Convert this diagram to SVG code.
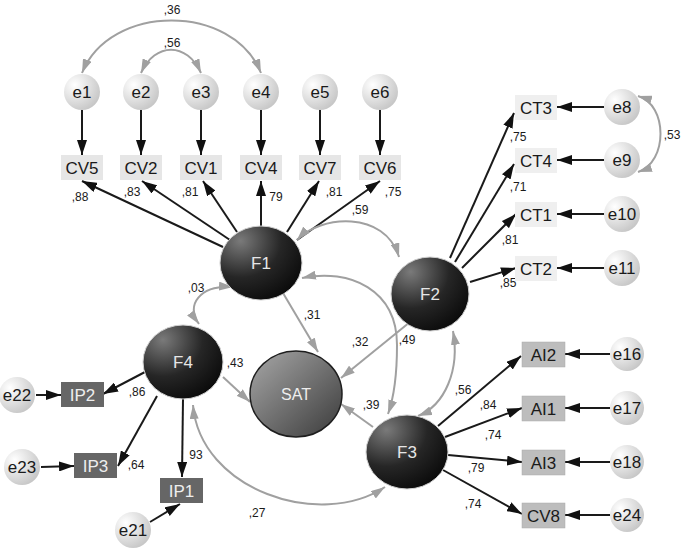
<svg xmlns="http://www.w3.org/2000/svg" width="682" height="550" viewBox="0 0 682 550">
<defs>
<radialGradient id="gE" cx="0.3" cy="0.3" r="0.8">
<stop offset="0" stop-color="#ffffff"/><stop offset="1" stop-color="#c4c4c4"/>
</radialGradient>
<radialGradient id="gF" cx="0.25" cy="0.2" r="0.9">
<stop offset="0" stop-color="#7a7a7a"/><stop offset="0.55" stop-color="#262626"/><stop offset="1" stop-color="#0a0a0a"/>
</radialGradient>
<linearGradient id="gS" x1="0" y1="0" x2="1" y2="1">
<stop offset="0" stop-color="#a8a8a8"/><stop offset="1" stop-color="#3a3a3a"/>
</linearGradient>
<marker id="ab" viewBox="0 0 15 10" refX="15" refY="5" markerWidth="15" markerHeight="10" orient="auto-start-reverse" markerUnits="userSpaceOnUse"><path d="M0,0 L15,5 L0,10 z" fill="#111"/></marker>
<marker id="ag" viewBox="0 0 14 9" refX="14" refY="4.5" markerWidth="14" markerHeight="9" orient="auto-start-reverse" markerUnits="userSpaceOnUse"><path d="M0,0 L14,4.5 L0,9 z" fill="#a0a0a0"/></marker>
</defs>
<style>
.e{fill:url(#gE);stroke:none}
.f{fill:url(#gF);stroke:#cfcfcf;stroke-width:1}
.cv{fill:#e6e6e6}
.ct{fill:#efefef}
.ai{fill:#bdbdbd;stroke:#aaa;stroke-width:0.5}
.ip{fill:#666666}
.t{font-family:"Liberation Sans",Arial,sans-serif;font-size:17px;fill:#1a1a1a;text-anchor:middle}
.tf{font-family:"Liberation Sans",Arial,sans-serif;font-size:17px;fill:#e6e6e6;text-anchor:middle}
.tw{font-family:"Liberation Sans",Arial,sans-serif;font-size:17px;fill:#eeeeee;text-anchor:middle}
.c{font-family:"Liberation Sans",Arial,sans-serif;font-size:12px;fill:#1a1a1a;text-anchor:middle}
.bl{stroke:#1a1a1a;stroke-width:2;fill:none;marker-end:url(#ab)}
.gl{stroke:#a0a0a0;stroke-width:2;fill:none;marker-end:url(#ag)}
.gd{stroke:#a0a0a0;stroke-width:2;fill:none;marker-start:url(#ag);marker-end:url(#ag)}
</style>
<rect width="682" height="550" fill="#ffffff"/>

<g id="connectors">
<line class="bl" x1="82" y1="110" x2="82" y2="155"/>
<line class="bl" x1="141" y1="110" x2="141" y2="155"/>
<line class="bl" x1="201" y1="110" x2="201" y2="155"/>
<line class="bl" x1="261" y1="110" x2="261" y2="155"/>
<line class="bl" x1="320" y1="110" x2="320" y2="155"/>
<line class="bl" x1="380" y1="110" x2="380" y2="155"/>
<path class="gd" d="M82,73 C110,3 233,3 261,73"/>
<path class="gd" d="M141,73 C155,42 187,42 201,73"/>
<line class="bl" x1="223" y1="247" x2="82" y2="181"/>
<line class="bl" x1="230" y1="240" x2="142" y2="181"/>
<line class="bl" x1="237" y1="232" x2="203" y2="181"/>
<line class="bl" x1="261" y1="226" x2="261" y2="181"/>
<line class="bl" x1="287" y1="232" x2="319" y2="181"/>
<line class="bl" x1="297" y1="240" x2="380" y2="181"/>
<line class="bl" x1="450" y1="258" x2="514" y2="113"/>
<line class="bl" x1="455" y1="262" x2="514" y2="164"/>
<line class="bl" x1="462" y1="268" x2="516" y2="214"/>
<line class="bl" x1="470" y1="282" x2="516" y2="268"/>
<line class="bl" x1="604" y1="107" x2="557" y2="107"/>
<line class="bl" x1="604" y1="160" x2="557" y2="160"/>
<line class="bl" x1="604" y1="214" x2="557" y2="214"/>
<line class="bl" x1="604" y1="268" x2="557" y2="268"/>
<path class="gd" d="M638,96 C668,105 668,162 638,172"/>
<line class="bl" x1="438" y1="426" x2="521" y2="356"/>
<line class="bl" x1="445" y1="437" x2="522" y2="408"/>
<line class="bl" x1="448" y1="455" x2="522" y2="462"/>
<line class="bl" x1="443" y1="470" x2="522" y2="514"/>
<line class="bl" x1="610" y1="354" x2="565" y2="354"/>
<line class="bl" x1="610" y1="408" x2="565" y2="408"/>
<line class="bl" x1="610" y1="462" x2="565" y2="462"/>
<line class="bl" x1="610" y1="515" x2="565" y2="515"/>
<line class="bl" x1="145" y1="372" x2="103" y2="394"/>
<line class="bl" x1="157" y1="396" x2="118" y2="466"/>
<line class="bl" x1="183" y1="399" x2="182" y2="477"/>
<line class="bl" x1="36" y1="395" x2="61" y2="395"/>
<line class="bl" x1="41" y1="467" x2="74" y2="466"/>
<line class="bl" x1="150" y1="522" x2="180" y2="504"/>
<line class="gl" x1="223" y1="377" x2="250" y2="402"/>
<line class="gl" x1="283" y1="293" x2="318" y2="352"/>
<line class="gl" x1="410" y1="322" x2="341" y2="378"/>
<line class="gl" x1="373" y1="427" x2="341" y2="404"/>
<path class="gd" d="M199,324 C185,305 200,285 233,287"/>
<path class="gd" d="M297,240 C320,215 385,210 399,257"/>
<path class="gd" d="M302,278 C350,268 397,290 397,345 C397,380 393,400 388,414"/>
<path class="gd" d="M418,416 C445,405 460,370 453,331"/>
<path class="gd" d="M193,405 C200,490 320,530 385,487"/>
</g>

<g id="coefficients">
<text class="c" x="172" y="14">,36</text>
<text class="c" x="172" y="47">,56</text>
<text class="c" x="80" y="201">,88</text>
<text class="c" x="132" y="196">,83</text>
<text class="c" x="190" y="196">,81</text>
<text class="c" x="276" y="201">79</text>
<text class="c" x="334" y="196">,81</text>
<text class="c" x="393" y="196">,75</text>
<text class="c" x="518" y="141">,75</text>
<text class="c" x="518" y="191">,71</text>
<text class="c" x="510" y="244">,81</text>
<text class="c" x="508" y="287">,85</text>
<text class="c" x="672" y="139">,53</text>
<text class="c" x="360" y="214">,59</text>
<text class="c" x="196" y="292">,03</text>
<text class="c" x="312" y="319">,31</text>
<text class="c" x="360" y="346">,32</text>
<text class="c" x="407" y="344">,49</text>
<text class="c" x="235" y="367">,43</text>
<text class="c" x="371" y="409">,39</text>
<text class="c" x="463" y="394">,56</text>
<text class="c" x="488" y="409">,84</text>
<text class="c" x="493" y="439">,74</text>
<text class="c" x="476" y="472">,79</text>
<text class="c" x="473" y="508">,74</text>
<text class="c" x="137" y="396">,86</text>
<text class="c" x="136" y="469">,64</text>
<text class="c" x="196" y="459">93</text>
<text class="c" x="257" y="517">,27</text>
</g>

<g id="e1"><circle class="e" cx="82" cy="92" r="18"/><text class="t" x="82" y="98">e1</text></g>
<g id="e2"><circle class="e" cx="141" cy="92" r="18"/><text class="t" x="141" y="98">e2</text></g>
<g id="e3"><circle class="e" cx="201" cy="92" r="18"/><text class="t" x="201" y="98">e3</text></g>
<g id="e4"><circle class="e" cx="261" cy="92" r="18"/><text class="t" x="261" y="98">e4</text></g>
<g id="e5"><circle class="e" cx="320" cy="92" r="18"/><text class="t" x="320" y="98">e5</text></g>
<g id="e6"><circle class="e" cx="380" cy="92" r="18"/><text class="t" x="380" y="98">e6</text></g>

<g id="CV5"><rect class="cv" x="61" y="155" width="42" height="25"/><text class="t" x="82" y="174">CV5</text></g>
<g id="CV2"><rect class="cv" x="120" y="155" width="42" height="25"/><text class="t" x="141" y="174">CV2</text></g>
<g id="CV1"><rect class="cv" x="180" y="155" width="42" height="25"/><text class="t" x="201" y="174">CV1</text></g>
<g id="CV4"><rect class="cv" x="240" y="155" width="42" height="25"/><text class="t" x="261" y="174">CV4</text></g>
<g id="CV7"><rect class="cv" x="299" y="155" width="42" height="25"/><text class="t" x="320" y="174">CV7</text></g>
<g id="CV6"><rect class="cv" x="359" y="155" width="42" height="25"/><text class="t" x="380" y="174">CV6</text></g>

<g id="CT3"><rect class="ct" x="515" y="95" width="42" height="25"/><text class="t" x="536" y="114">CT3</text></g>
<g id="CT4"><rect class="ct" x="515" y="148" width="42" height="25"/><text class="t" x="536" y="167">CT4</text></g>
<g id="CT1"><rect class="ct" x="515" y="202" width="42" height="25"/><text class="t" x="536" y="221">CT1</text></g>
<g id="CT2"><rect class="ct" x="515" y="256" width="42" height="25"/><text class="t" x="536" y="275">CT2</text></g>

<g id="e8"><circle class="e" cx="622" cy="107" r="18"/><text class="t" x="622" y="113">e8</text></g>
<g id="e9"><circle class="e" cx="622" cy="160" r="18"/><text class="t" x="622" y="166">e9</text></g>
<g id="e10"><circle class="e" cx="622" cy="214" r="18"/><text class="t" x="622" y="220">e10</text></g>
<g id="e11"><circle class="e" cx="622" cy="268" r="18"/><text class="t" x="622" y="274">e11</text></g>

<g id="AI2"><rect class="ai" x="522" y="342" width="43" height="25"/><text class="t" x="543.5" y="361">AI2</text></g>
<g id="AI1"><rect class="ai" x="522" y="396" width="43" height="25"/><text class="t" x="543.5" y="415">AI1</text></g>
<g id="AI3"><rect class="ai" x="522" y="450" width="43" height="25"/><text class="t" x="543.5" y="469">AI3</text></g>
<g id="CV8"><rect class="ai" x="522" y="503" width="43" height="25"/><text class="t" x="543.5" y="522">CV8</text></g>

<g id="e16"><circle class="e" cx="627" cy="354" r="17"/><text class="t" x="627" y="360">e16</text></g>
<g id="e17"><circle class="e" cx="627" cy="408" r="17"/><text class="t" x="627" y="414">e17</text></g>
<g id="e18"><circle class="e" cx="627" cy="462" r="17"/><text class="t" x="627" y="468">e18</text></g>
<g id="e24"><circle class="e" cx="627" cy="515" r="17"/><text class="t" x="627" y="521">e24</text></g>

<g id="IP2"><rect class="ip" x="61" y="382" width="43" height="25"/><text class="tw" x="82.5" y="401">IP2</text></g>
<g id="IP3"><rect class="ip" x="74" y="453" width="43" height="25"/><text class="tw" x="95.5" y="472">IP3</text></g>
<g id="IP1"><rect class="ip" x="160" y="478" width="43" height="25"/><text class="tw" x="181.5" y="497">IP1</text></g>

<g id="e22"><circle class="e" cx="17" cy="395" r="18"/><text class="t" x="17" y="401">e22</text></g>
<g id="e23"><circle class="e" cx="22" cy="467" r="18"/><text class="t" x="22" y="473">e23</text></g>
<g id="e21"><circle class="e" cx="133" cy="530" r="18"/><text class="t" x="133" y="536">e21</text></g>

<g id="F1"><ellipse class="f" cx="261" cy="263" rx="41" ry="37"/><text class="tf" x="261" y="269">F1</text></g>
<g id="F2"><ellipse class="f" cx="430" cy="294" rx="39" ry="37"/><text class="tf" x="430" y="300">F2</text></g>
<g id="F4"><ellipse class="f" cx="183" cy="362" rx="40" ry="37"/><text class="tf" x="183" y="368">F4</text></g>
<g id="F3"><ellipse class="f" cx="407" cy="452" rx="41" ry="37"/><text class="tf" x="407" y="458">F3</text></g>
<g id="SAT"><ellipse cx="296" cy="394" rx="46" ry="43" fill="url(#gS)" stroke="#1e1e1e" stroke-width="1.5"/><text class="tw" x="296" y="400" style="font-size:16px">SAT</text></g>
</svg>
